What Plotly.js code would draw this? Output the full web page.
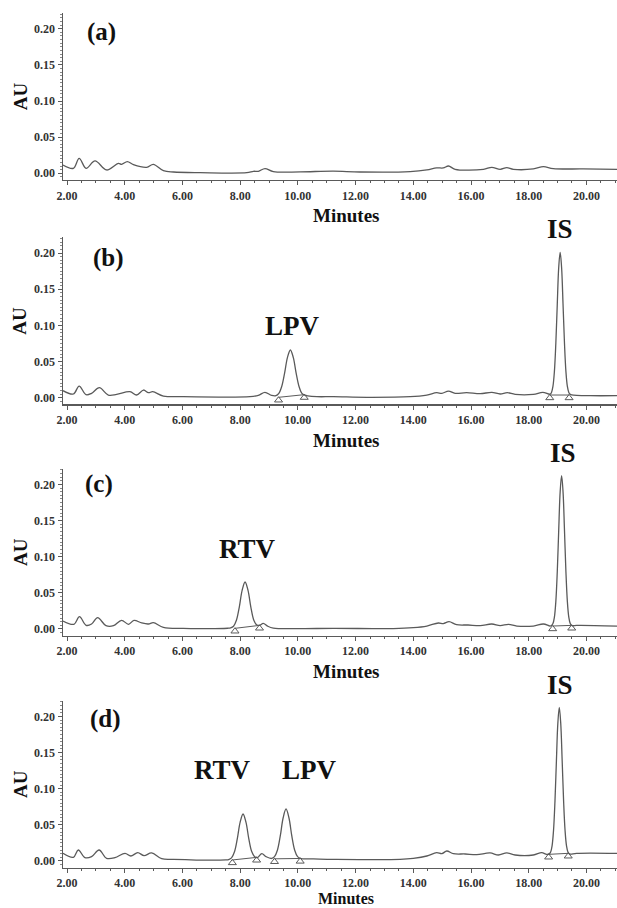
<!DOCTYPE html>
<html>
<head>
<meta charset="utf-8">
<script src="https://cdn.plot.ly/plotly-3.0.1.min.js"></script>
<style>html,body{margin:0;padding:0;background:#fff;}#chart{width:617px;height:908px;}</style>
</head>
<body>
<div id="chart"></div>
<script>
// ---- Data (minutes, AU) ----
var panelLabels = ["(a)", "(b)", "(c)", "(d)"];
var xTitle = "Minutes";
var yTitle = "AU";

// (a) blank
var xa = [1.86, 2.22, 2.42, 2.66, 2.97, 3.37, 3.78, 3.89, 4.09, 4.30, 4.76, 4.99, 5.34, 5.69, 6.61, 8.23, 8.46, 8.63, 8.86, 9.15, 10.08, 11.23, 12.15, 13.89, 14.47, 14.81, 15.04, 15.22, 15.45, 16.43, 16.72, 17.01, 17.24, 17.47, 18.16, 18.51, 18.85, 19.89, 21.06];
var ya = [0.0115, 0.0069, 0.0207, 0.0069, 0.0171, 0.0046, 0.0138, 0.0124, 0.0161, 0.0120, 0.0083, 0.0124, 0.0037, 0.0018, 0.0009, 0.0009, 0.0028, 0.0028, 0.0065, 0.0023, 0.002, 0.003, 0.0018, 0.0023, 0.0046, 0.0074, 0.0074, 0.0101, 0.0055, 0.0055, 0.0083, 0.0055, 0.0078, 0.0055, 0.006, 0.0092, 0.0065, 0.006, 0.0055];

// (b) LPV + IS
var xb = [1.86, 2.22, 2.42, 2.66, 2.85, 3.12, 3.43, 3.72, 4.18, 4.41, 4.65, 4.82, 4.97, 5.34, 6.03, 8.34, 8.63, 8.86, 9.09,
          9.24, 9.34, 9.44, 9.54, 9.64, 9.74, 9.84, 9.94, 10.04, 10.14, 10.24, 10.34,
          10.66, 11.23, 12.39, 13.89, 14.47, 14.81, 14.99, 15.22, 15.45, 15.85, 16.32, 16.72, 17.01, 17.26, 17.53, 18.16, 18.49,
          18.74, 18.79, 18.84, 18.89, 18.94, 18.99, 19.04, 19.09, 19.14, 19.19, 19.24, 19.29, 19.34, 19.39, 19.44, 19.49,
          20.12, 21.06];
var yb = [0.0097, 0.0051, 0.0161, 0.0041, 0.006, 0.0138, 0.0037, 0.0046, 0.0083, 0.0037, 0.0106, 0.0069, 0.0083, 0.0023, 0.0014, 0.0014, 0.0032, 0.0074, 0.0032,
          0.0028, 0.006, 0.0155, 0.034, 0.0558, 0.066, 0.0558, 0.034, 0.0155, 0.006, 0.0035, 0.0025,
          0.0014, 0.0014, 0.0005, 0.0014, 0.0037, 0.0069, 0.006, 0.0092, 0.006, 0.0069, 0.0055, 0.0074, 0.0051, 0.0069, 0.0046, 0.0046, 0.0074,
          0.0048, 0.0073, 0.0156, 0.036, 0.075, 0.129, 0.180, 0.201, 0.180, 0.129, 0.075, 0.036, 0.0156, 0.0073, 0.0048, 0.0040,
          0.0028, 0.0028];

// (c) RTV + IS
var xc = [1.86, 2.24, 2.43, 2.66, 2.85, 3.06, 3.35, 3.61, 3.89, 4.13, 4.32, 4.59, 4.82, 4.99, 5.34, 6.03,
          7.57, 7.67, 7.77, 7.87, 7.97, 8.07, 8.17, 8.27, 8.37, 8.47, 8.57, 8.67,
          8.80, 8.95, 9.15, 10.08, 11.23, 13.31, 14.00, 14.47, 14.87, 15.04, 15.24, 15.50, 15.90, 16.32, 16.72, 17.01, 17.30, 17.59, 18.16, 18.51, 18.74,
          18.79, 18.84, 18.89, 18.94, 18.99, 19.04, 19.09, 19.14, 19.19, 19.24, 19.29, 19.34, 19.39, 19.44, 19.49,
          19.54, 19.66, 21.06];
var yc = [0.011, 0.0065, 0.017, 0.0051, 0.0069, 0.0157, 0.0046, 0.0046, 0.012, 0.0065, 0.012, 0.0083, 0.0069, 0.0088, 0.0023, 0.0009,
          0.001, 0.0015, 0.0038, 0.012, 0.0303, 0.0537, 0.065, 0.0537, 0.0303, 0.0125, 0.0058, 0.005,
          0.0078, 0.004, 0.0012, 0.0005, 0.0009, 0.0005, 0.0018, 0.0041, 0.0083, 0.0074, 0.0101, 0.006, 0.0055, 0.0046, 0.0069, 0.0046, 0.0065, 0.0041, 0.0041, 0.0069, 0.0041,
          0.0048, 0.0075, 0.0163, 0.0379, 0.0789, 0.1363, 0.1897, 0.212, 0.1897, 0.1363, 0.0789, 0.0379, 0.0163, 0.0075, 0.0048,
          0.0045, 0.005, 0.0041];

// (d) RTV + LPV + IS
var xd = [1.86, 2.22, 2.39, 2.62, 2.85, 3.11, 3.37, 3.66, 4.01, 4.21, 4.45, 4.67, 4.93, 5.28, 5.69,
          7.50, 7.60, 7.70, 7.80, 7.90, 8.00, 8.10, 8.20, 8.30, 8.40, 8.50, 8.60,
          8.75, 8.90,
          9.09, 9.19, 9.29, 9.39, 9.49, 9.59, 9.69, 9.79, 9.89, 9.99, 10.09, 10.19,
          10.54, 11.23, 13.54, 14.00, 14.47, 14.81, 14.99, 15.16, 15.39, 15.80, 16.20, 16.66, 16.95, 17.24, 17.53, 18.16, 18.45, 18.62,
          18.71, 18.76, 18.81, 18.86, 18.91, 18.96, 19.01, 19.06, 19.11, 19.16, 19.21, 19.26, 19.31, 19.36, 19.41, 19.46,
          19.66, 21.06];
var yd = [0.0106, 0.0051, 0.0152, 0.0046, 0.006, 0.0152, 0.0037, 0.0046, 0.0106, 0.0069, 0.0115, 0.0074, 0.0111, 0.0032, 0.0023,
          0.0015, 0.002, 0.0043, 0.0124, 0.0306, 0.0538, 0.065, 0.0538, 0.0306, 0.013, 0.006, 0.0048,
          0.0101, 0.006,
          0.0035, 0.006, 0.0149, 0.0346, 0.0598, 0.072, 0.0598, 0.0346, 0.0149, 0.006, 0.0035, 0.003,
          0.0028, 0.0023, 0.0023, 0.0037, 0.0069, 0.0115, 0.0101, 0.0138, 0.0101, 0.0097, 0.0088, 0.0111, 0.0083, 0.0111, 0.0083, 0.0083, 0.0115, 0.0092,
          0.0098, 0.0125, 0.021, 0.0422, 0.0823, 0.1384, 0.1907, 0.2125, 0.1907, 0.1384, 0.0823, 0.0422, 0.021, 0.0125, 0.0098, 0.0095,
          0.0106, 0.0106];

// Integration marks: peak start / end times and baseline levels
var peakStartB = [9.33, 18.73], peakEndB = [10.22, 19.40], baseStartB = [0.0005, 0.0037], baseEndB = [0.0042, 0.0037];
var peakStartC = [7.82, 18.83], peakEndC = [8.67, 19.49], baseStartC = [0.0009, 0.0041], baseEndC = [0.005, 0.005];
var peakStartD = [7.73, 9.19, 18.69], peakEndD = [8.57, 10.08, 19.37], baseStartD = [0.0014, 0.003, 0.0092], baseEndD = [0.005, 0.0035, 0.0106];

// Peak names with label positions (minutes, AU)
var peakNamesB = ["LPV", "IS"], peakLabelXB = [9.80, 19.10], peakLabelYB = [0.0996, 0.233];
var peakNamesC = ["RTV", "IS"], peakLabelXC = [8.26, 19.18], peakLabelYC = [0.111, 0.243];
var peakNamesD = ["RTV", "LPV", "IS"], peakLabelXD = [7.39, 10.39, 19.10], peakLabelYD = [0.126, 0.126, 0.243];

// ---- Build ----
var LINE = '#5a5a5a';
var SERIF = 'Liberation Serif, Times New Roman, serif';
var Y_RANGE = [-0.009, 0.222];
var panels = [
  {x: xa, y: ya, ax: 'x', ay: 'y', starts: [], ends: [], bs: [], be: [], names: [], lx: [], ly: []},
  {x: xb, y: yb, ax: 'x2', ay: 'y2', starts: peakStartB, ends: peakEndB, bs: baseStartB, be: baseEndB, names: peakNamesB, lx: peakLabelXB, ly: peakLabelYB},
  {x: xc, y: yc, ax: 'x3', ay: 'y3', starts: peakStartC, ends: peakEndC, bs: baseStartC, be: baseEndC, names: peakNamesC, lx: peakLabelXC, ly: peakLabelYC},
  {x: xd, y: yd, ax: 'x4', ay: 'y4', starts: peakStartD, ends: peakEndD, bs: baseStartD, be: baseEndD, names: peakNamesD, lx: peakLabelXD, ly: peakLabelYD}
];
var labelPos = [[3.20, 0.196], [3.43, 0.193], [3.12, 0.200], [3.34, 0.197]];
var domains = [[0.80198, 0.98590], [0.55485, 0.73877], [0.30011, 0.48403], [0.04460, 0.22852]];
var minutesY = [-0.216, -0.216, -0.216, -0.186];
var minutesSize = [19, 19, 19, 16];

function toDomain(v) { return (v - Y_RANGE[0]) / (Y_RANGE[1] - Y_RANGE[0]); }

var traces = [];
var annotations = [];
var layout = {
  width: 617, height: 908,
  margin: {l: 63, r: 0, t: 0, b: 0, pad: 0},
  paper_bgcolor: '#fff', plot_bgcolor: '#fff',
  showlegend: false,
  font: {family: SERIF, color: '#222'}
};

panels.forEach(function (p, i) {
  traces.push({x: p.x, y: p.y, xaxis: p.ax, yaxis: p.ay, type: 'scatter', mode: 'lines',
    line: {color: LINE, width: 1.3, shape: 'spline', smoothing: 1}, hoverinfo: 'skip'});
  for (var k = 0; k < p.starts.length; k++) {
    traces.push({x: [p.starts[k], p.ends[k]], y: [p.bs[k], p.be[k]], xaxis: p.ax, yaxis: p.ay,
      type: 'scatter', mode: 'lines', line: {color: LINE, width: 1}, hoverinfo: 'skip'});
    traces.push({x: [p.starts[k], p.ends[k]], y: [p.bs[k] - 0.004, p.be[k] - 0.004], xaxis: p.ax, yaxis: p.ay,
      type: 'scatter', mode: 'markers', cliponaxis: false,
      marker: {symbol: 'triangle-up-open', size: 7, color: LINE, line: {width: 1, color: LINE}}, hoverinfo: 'skip'});
  }
  var xk = i === 0 ? 'xaxis' : 'xaxis' + (i + 1);
  var yk = i === 0 ? 'yaxis' : 'yaxis' + (i + 1);
  var yname = i === 0 ? 'y' : 'y' + (i + 1);
  layout[xk] = {
    domain: [0, 1], anchor: yname, range: [1.86, 21.06],
    showline: true, linecolor: LINE, linewidth: 1.5, mirror: false,
    ticks: 'outside', ticklen: 4, tickwidth: 1, tickcolor: LINE,
    tick0: 0, dtick: 2, tickformat: '.2f',
    tickfont: {family: SERIF, size: 12, color: '#333', weight: 'bold'},
    minor: {dtick: 0.5, ticks: 'outside', ticklen: 2, tickcolor: LINE, showgrid: false},
    showgrid: false, zeroline: false, automargin: false, fixedrange: true
  };
  layout[yk] = {
    domain: domains[i], anchor: p.ax, range: Y_RANGE,
    showline: true, linecolor: LINE, linewidth: 1.5,
    ticks: 'outside', ticklen: 4, tickwidth: 1, tickcolor: LINE,
    tick0: 0, dtick: 0.05, tickformat: '.2f',
    tickfont: {family: SERIF, size: 12, color: '#333', weight: 'bold'},
    minor: {dtick: 0.005, ticks: 'outside', ticklen: 2, tickcolor: '#888', showgrid: false},
    showgrid: false, zeroline: false, automargin: false, fixedrange: true
  };
  // panel letter
  annotations.push({text: '<b>' + panelLabels[i] + '</b>', xref: p.ax, yref: yname + ' domain', x: labelPos[i][0], y: toDomain(labelPos[i][1]),
    showarrow: false, xanchor: 'center', yanchor: 'middle', font: {family: SERIF, size: 25, color: '#111'}});
  // peak names
  for (var m = 0; m < p.names.length; m++) {
    annotations.push({text: '<b>' + p.names[m] + '</b>', xref: p.ax, yref: yname + ' domain', x: p.lx[m], y: toDomain(p.ly[m]),
      showarrow: false, xanchor: 'center', yanchor: 'middle', font: {family: SERIF, size: 27, color: '#111'}});
  }
  // axis titles
  annotations.push({text: '<b>' + xTitle + '</b>', xref: 'paper', yref: yname + ' domain', x: 0.511, y: minutesY[i],
    showarrow: false, xanchor: 'center', yanchor: 'middle', font: {family: SERIF, size: minutesSize[i], color: '#111'}});
  annotations.push({text: '<b>' + yTitle + '</b>', xref: 'paper', yref: yname + ' domain', x: -0.0776, y: 0.5,
    textangle: -90, showarrow: false, xanchor: 'center', yanchor: 'middle', font: {family: SERIF, size: 19, color: '#111'}});
});
layout.annotations = annotations;

Plotly.newPlot('chart', traces, layout, {staticPlot: true, displayModeBar: false});
</script>
</body>
</html>
